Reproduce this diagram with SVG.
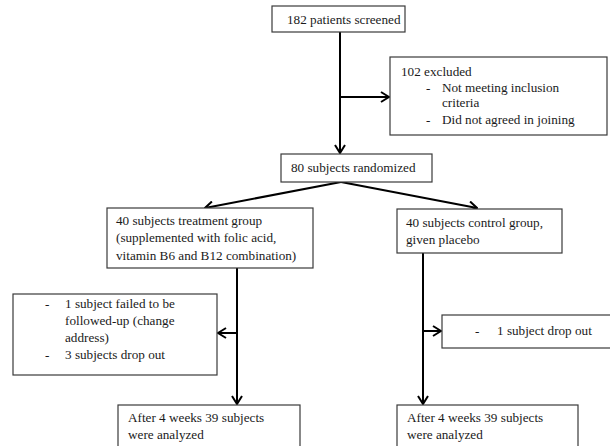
<svg xmlns="http://www.w3.org/2000/svg" width="610" height="446" viewBox="0 0 610 446">
<defs>
<style>
.box{fill:#fff;stroke:#3a3a3a;stroke-width:1.2}
.c{fill:none;stroke:#000;stroke-width:2}
</style>
<marker id="ah" markerWidth="10" markerHeight="12" refX="9" refY="6" orient="auto" markerUnits="userSpaceOnUse">
<path d="M1,1 L9,6 L1,11" fill="none" stroke="#000" stroke-width="2"/>
</marker>
</defs>
<rect width="610" height="446" fill="#fff"/>
<g id="connectors">
<line class="c" x1="340" y1="32" x2="340" y2="153" marker-end="url(#ah)"/>
<line class="c" x1="340" y1="97" x2="389" y2="97" marker-end="url(#ah)"/>
<line class="c" x1="341" y1="182" x2="205" y2="208" marker-end="url(#ah)"/>
<line class="c" x1="341" y1="182" x2="477" y2="208" marker-end="url(#ah)"/>
<line class="c" x1="237" y1="268" x2="237" y2="404" marker-end="url(#ah)"/>
<line class="c" x1="237" y1="333" x2="218" y2="333" marker-end="url(#ah)"/>
<line class="c" x1="423" y1="253" x2="423" y2="404" marker-end="url(#ah)"/>
<line class="c" x1="423" y1="331" x2="441" y2="331" marker-end="url(#ah)"/>
</g>
<g font-family="Liberation Serif, Times New Roman, serif" font-size="13.2" fill="#1a1a1a">
<g id="screened">
<rect class="box" x="272" y="6" width="133" height="26"/>
<text x="287" y="24">182 patients screened</text>
</g>
<g id="excluded">
<rect class="box" x="390" y="57" width="217" height="78"/>
<text x="401" y="76">102 excluded</text>
<text x="426" y="92">-</text>
<text x="442" y="92">Not meeting inclusion</text>
<text x="442" y="107">criteria</text>
<text x="426" y="124">-</text>
<text x="442" y="124">Did not agreed in joining</text>
</g>
<g id="randomized">
<rect class="box" x="281" y="154" width="151" height="28"/>
<text x="291" y="172">80 subjects randomized</text>
</g>
<g id="treatment">
<rect class="box" x="107" y="208" width="206" height="60"/>
<text x="116" y="225">40 subjects treatment group</text>
<text x="116" y="242">(supplemented with folic acid,</text>
<text x="116" y="260">vitamin B6 and B12 combination)</text>
</g>
<g id="control">
<rect class="box" x="397" y="209" width="165" height="44"/>
<text x="406" y="227">40 subjects control group,</text>
<text x="406" y="244">given placebo</text>
</g>
<g id="dropout-left">
<rect class="box" x="13" y="294" width="204" height="81"/>
<text x="45" y="308">-</text>
<text x="65" y="308">1 subject failed to be</text>
<text x="65" y="325">followed-up (change</text>
<text x="65" y="342">address)</text>
<text x="45" y="359">-</text>
<text x="65" y="359">3 subjects drop out</text>
</g>
<g id="dropout-right">
<rect class="box" x="442" y="315" width="180" height="33"/>
<text x="475" y="335">-</text>
<text x="497" y="335">1 subject drop out</text>
</g>
<g id="analyzed-left">
<rect class="box" x="118" y="405" width="182" height="60"/>
<text x="128" y="422">After 4 weeks 39 subjects</text>
<text x="128" y="439">were analyzed</text>
</g>
<g id="analyzed-right">
<rect class="box" x="397" y="405" width="181" height="60"/>
<text x="407" y="422">After 4 weeks 39 subjects</text>
<text x="407" y="439">were analyzed</text>
</g>
</g>
</svg>
